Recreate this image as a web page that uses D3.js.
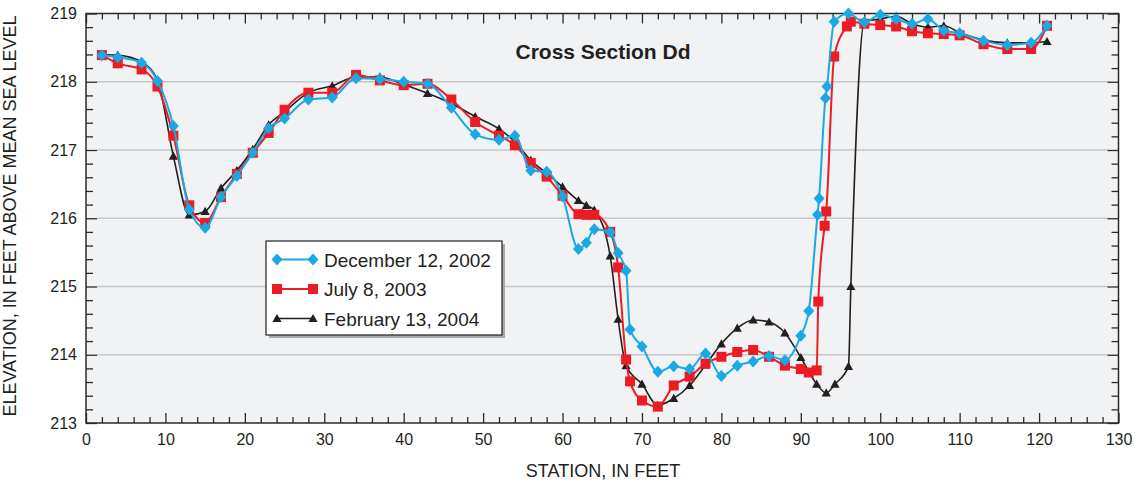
<!DOCTYPE html>
<html><head><meta charset="utf-8">
<script src="https://cdn.jsdelivr.net/npm/d3@7"></script>
<style>
html,body{margin:0;padding:0;background:#fff;}
svg{display:block;font-family:"Liberation Sans",Arial,Helvetica,sans-serif;}
</style></head>
<body>
<svg id="chart" width="1139" height="482"></svg>
<script>
// ---- data ----
const dec2002Station = [2,4,7,9,11,13,15,17,19,21,23,25,28,31,34,37,40,43,46,49,52,54,56,58,60,62,63,64,66,67,68,68.5,70,72,74,76,78,80,82,84,86,88,90,91,92.1,92.3,93.1,93.3,94.2,96,98,100,102,104,106,108,110,113,116,119,121];
const dec2002Elev = [218.39,218.36,218.28,218.01,217.35,216.13,215.86,216.31,216.62,216.96,217.32,217.46,217.74,217.77,218.05,218.04,218.00,217.97,217.62,217.23,217.15,217.21,216.70,216.68,216.32,215.55,215.64,215.84,215.80,215.49,215.23,214.37,214.12,213.75,213.83,213.79,214.02,213.69,213.84,213.90,213.98,213.92,214.28,214.64,216.05,216.29,217.76,217.93,218.88,219.00,218.87,218.98,218.92,218.85,218.92,218.75,218.71,218.60,218.54,218.57,218.82];

const jul2003Station = [2,4,7,9,11,13,15,17,19,21,23,25,28,31,34,37,40,43,46,49,52,54,56,58,60,62,63,64,66,67,68,68.5,70,72,74,76,78,80,82,84,86,88,90,91,92,92.2,93,93.2,94.2,95.8,96.3,98,100,102,104,106,108,110,113,116,119,121];
const jul2003Elev = [218.39,218.27,218.18,217.93,217.21,216.19,215.93,216.31,216.65,216.96,217.25,217.59,217.84,217.84,218.10,218.02,217.95,217.97,217.74,217.41,217.21,217.07,216.81,216.61,216.33,216.06,216.05,216.05,215.80,215.28,213.93,213.61,213.33,213.24,213.55,213.68,213.87,213.97,214.04,214.07,213.97,213.84,213.79,213.74,213.77,214.78,215.89,216.10,218.37,218.81,218.88,218.85,218.83,218.81,218.74,218.71,218.70,218.68,218.55,218.48,218.48,218.82];

const feb2004Station = [2,4,7,9,11,13,15,17,19,21,23,25,28,31,34,37,40,43,46,49,52,54,56,58,60,62,63,64,66,67,68,70,72,74,76,78,80,82,84,86,88,90,92,93.2,94.3,96,96.3,98,100,102,104,106,108,110,113,116,119,121];
const feb2004Elev = [218.40,218.39,218.29,218.02,216.91,216.05,216.10,216.44,216.70,217.01,217.37,217.56,217.84,217.94,218.07,218.07,217.96,217.83,217.68,217.49,217.31,217.12,216.85,216.66,216.46,216.26,216.19,216.12,215.45,214.52,213.84,213.57,213.26,213.36,213.55,213.85,214.16,214.39,214.51,214.48,214.32,213.96,213.57,213.44,213.57,213.83,215.00,218.88,218.92,218.96,218.85,218.80,218.82,218.72,218.61,218.57,218.57,218.59];

const seriesNames = ["December 12, 2002","July 8, 2003","February 13, 2004"];
const xTickLabels = [0,10,20,30,40,50,60,70,80,90,100,110,120,130];
const yTickLabels = [213,214,215,216,217,218,219];
const titleText = "Cross Section Dd";
const xAxisTitle = "STATION, IN FEET";
const yAxisTitle = "ELEVATION, IN FEET ABOVE MEAN SEA LEVEL";

// ---- layout ----
const L = 86, R = 1118.5, T = 13.5, B = 423;
const svg = d3.select("#chart");
const x = d3.scaleLinear().domain([0,130]).range([L,R]);
const y = d3.scaleLinear().domain([213,219]).range([B,T]);

const frameColor = "#2b2b2b";
const colors = ["#1aa9e4","#ec1c24","#231f20"];

svg.append("rect").attr("x",L).attr("y",T).attr("width",R-L).attr("height",B-T).attr("fill","#f1f2f4");

// gridlines
svg.append("g").selectAll("line").data(yTickLabels.filter(v=>v>213&&v<219)).join("line")
  .attr("x1",L+11).attr("x2",R-11).attr("y1",d=>y(d)).attr("y2",d=>y(d))
  .attr("stroke","#c6c7c9").attr("stroke-width",1.5);

// axes
function styleAxis(g){ g.selectAll(".domain").remove(); g.selectAll(".tick line").attr("stroke",frameColor).attr("stroke-width",1.3); g.selectAll("text").attr("fill","#231f20").attr("font-size",16); }
const minorX = d3.range(0,131,2).filter(v=>v%10!==0);
const minorY = d3.range(213,219.01,0.2).filter(v=>Math.abs(v-Math.round(v))>0.01);

svg.append("g").attr("transform",`translate(0,${B})`).call(d3.axisBottom(x).tickValues(minorX).tickSize(-6).tickFormat("")).call(styleAxis);
svg.append("g").attr("transform",`translate(0,${B})`).call(d3.axisBottom(x).tickValues(xTickLabels).tickSize(-10).tickPadding(11).tickFormat(d3.format("d"))).call(styleAxis);
svg.append("g").attr("transform",`translate(0,${T})`).call(d3.axisTop(x).tickValues(minorX).tickSize(-6).tickFormat("")).call(styleAxis);
svg.append("g").attr("transform",`translate(0,${T})`).call(d3.axisTop(x).tickValues(xTickLabels).tickSize(-10).tickFormat("")).call(styleAxis);
svg.append("g").attr("transform",`translate(${L},0)`).call(d3.axisLeft(y).tickValues(minorY).tickSize(-7).tickFormat("")).call(styleAxis);
svg.append("g").attr("transform",`translate(${L},0)`).call(d3.axisLeft(y).tickValues(yTickLabels).tickSize(-11).tickPadding(9).tickFormat(d3.format("d"))).call(styleAxis);
svg.append("g").attr("transform",`translate(${R},0)`).call(d3.axisRight(y).tickValues(minorY).tickSize(-7).tickFormat("")).call(styleAxis);
svg.append("g").attr("transform",`translate(${R},0)`).call(d3.axisRight(y).tickValues(yTickLabels).tickSize(-11).tickFormat("")).call(styleAxis);

svg.append("rect").attr("x",L).attr("y",T).attr("width",R-L).attr("height",B-T).attr("fill","none").attr("stroke",frameColor).attr("stroke-width",1.5);

// markers
const markerPath = [
  "M0,-6L5.5,0L0,6L-5.5,0Z",
  "M-5,-5H5V5H-5Z",
  "M0,-4.6L4.6,3.6H-4.6Z"
];

const series = [
  {st:dec2002Station, el:dec2002Elev},
  {st:jul2003Station, el:jul2003Elev},
  {st:feb2004Station, el:feb2004Elev}
];
const line = d3.line().x(d=>x(d[0])).y(d=>y(d[1])).curve(d3.curveMonotoneX);

[2,1,0].forEach(i=>{
  const pts = series[i].st.map((s,k)=>[s,series[i].el[k]]);
  const g = svg.append("g");
  g.append("path").attr("d",line(pts)).attr("fill","none").attr("stroke",colors[i]).attr("stroke-width",i===2?1.6:2);
  g.selectAll("path.m").data(pts).join("path").attr("class","m")
    .attr("transform",d=>`translate(${x(d[0])},${y(d[1])})`)
    .attr("d",markerPath[i]).attr("fill",colors[i]);
});

// title
svg.append("text").attr("x",603).attr("y",59).attr("text-anchor","middle").attr("font-weight","bold").attr("font-size",21).attr("fill","#231f20").text(titleText);

// axis titles
svg.append("text").attr("x",603).attr("y",477).attr("text-anchor","middle").attr("font-size",18).attr("fill","#231f20").text(xAxisTitle);
svg.append("text").attr("transform","translate(16,216) rotate(-90)").attr("text-anchor","middle").attr("font-size",18).attr("fill","#231f20").text(yAxisTitle);

// legend
const lg = svg.append("g");
lg.append("rect").attr("x",269).attr("y",244).attr("width",236).attr("height",94).attr("fill","#a7a9ac");
lg.append("rect").attr("x",266).attr("y",241).attr("width",236).attr("height",94).attr("fill","#fff").attr("stroke","#231f20").attr("stroke-width",1.2);
seriesNames.forEach((name,i)=>{
  const cy = 259.5 + i*29.5;
  lg.append("line").attr("x1",277).attr("x2",313).attr("y1",cy).attr("y2",cy).attr("stroke",colors[i]).attr("stroke-width",i===2?1.6:2);
  [277,313].forEach(mx=>lg.append("path").attr("transform",`translate(${mx},${cy})`).attr("d",markerPath[i]).attr("fill",colors[i]));
  lg.append("text").attr("x",324).attr("y",cy+7).attr("font-size",19).attr("fill","#231f20").text(name);
});
</script>
</body></html>
